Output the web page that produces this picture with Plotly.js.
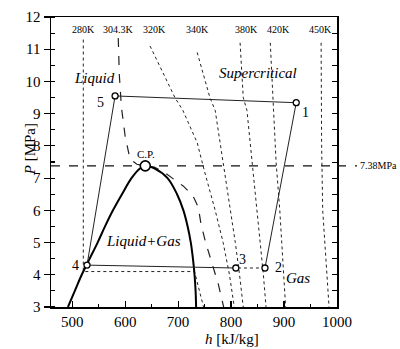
<!DOCTYPE html>
<html><head><meta charset="utf-8">
<script src="https://cdn.plot.ly/plotly-3.0.1.min.js"></script>
<style>html,body{margin:0;padding:0;background:#fff}#c{width:400px;height:349px}</style>
</head><body><div id="c"></div>
<script>
// Saturation dome
const domeLiqH = [492,505,518,533,548,562,577,594,612,628,638];
const domeLiqP = [3.0,3.5,4.0,4.5,5.0,5.5,6.0,6.5,7.0,7.3,7.38];
const domeVapH = [638,655,680,698,710,718,724,728,731,733,734];
const domeVapP = [7.38,7.3,7.0,6.5,6.0,5.5,5.0,4.5,4.0,3.5,3.0];
// Isotherms
const t280H = [521,521,521,731,740,748];
const t280P = [11.3,7.0,4.1,4.1,3.55,3.0];
const t304H = [587,589,593,600,609,622,638,655,672,690,710,728,738,743,752,765,776,786];
const t304P = [11.35,10.2,9.2,8.3,7.6,7.43,7.38,7.34,7.2,7.0,6.75,6.45,6.1,5.6,5.0,4.3,3.7,3.0];
const t320H = [647,670,694,709,726,736,750,770,785,797,806];
const t320P = [11.1,10.3,9.5,9.1,8.5,8.1,7.2,6.0,5.0,4.0,3.0];
const t340H = [736,748,760,770,784,798,808,816,823];
const t340P = [10.9,10.2,9.5,9.1,7.6,6.2,5.0,4.0,3.0];
const t380H = [817,820,823,830,840,849,856,861,866];
const t380P = [11.2,10.3,9.5,9.1,7.5,6.0,5.0,4.0,3.0];
const t420H = [874,877,879,885,892,896,900,903];
const t420P = [11.2,10.2,9.2,7.5,6.0,5.0,4.0,3.0];
const t450H = [970,970,971,973,977,981,985];
const t450P = [11.2,9.5,8.0,6.0,5.0,4.0,3.0];
const isoLabels = ["280K","304.3K","320K","340K","380K","420K","450K"];
const isoLabelH = [521,587,656,737,830,889,968];
// Cycle states 1..5
const stateNames = ["1","2","3","4","5"];
const stateH = [923,864,809,528,581];
const stateP = [9.34,4.21,4.21,4.30,9.55];
// Critical point
const cpH = 638, cpP = 7.38;
// Axis ticks
const xTicks = [500,600,700,800,900,1000];
const yTicks = [3,4,5,6,7,8,9,10,11,12];

const serif = "Liberation Serif";
const iso = (h,p,dash,w)=>({x:h,y:p,mode:'lines',line:{color:'#222',width:w||1,dash:dash||'dot'},hoverinfo:'skip',showlegend:false});
const traces = [
  iso(t280H,t280P), iso(t304H,t304P,'dash',1.2), iso(t320H,t320P), iso(t340H,t340P),
  iso(t380H,t380P), iso(t420H,t420P), iso(t450H,t450P),
  {x:[460,1000],y:[cpP,cpP],mode:'lines',line:{color:'#111',width:1.4,dash:'dash'},hoverinfo:'skip',showlegend:false},
  {x:domeLiqH.concat(domeVapH.slice(1)),y:domeLiqP.concat(domeVapP.slice(1)),mode:'lines',line:{color:'#000',width:2,shape:'spline'},hoverinfo:'skip',showlegend:false},
  // cycle
  {x:[stateH[4],stateH[0],stateH[1]],y:[stateP[4],stateP[0],stateP[1]],mode:'lines',line:{color:'#222',width:1},showlegend:false},
  {x:[stateH[1],stateH[2]],y:[stateP[1],stateP[2]],mode:'lines',line:{color:'#222',width:1,dash:'dot'},showlegend:false},
  {x:[stateH[2],stateH[3],stateH[4]],y:[stateP[2],stateP[3],stateP[4]],mode:'lines',line:{color:'#222',width:1},showlegend:false},
  {x:stateH,y:stateP,mode:'markers',marker:{symbol:'circle',size:6,color:'#fff',line:{width:1.3,color:'#000'}},showlegend:false},
  {x:[cpH],y:[cpP],mode:'markers',marker:{symbol:'circle',size:10,color:'#fff',line:{width:1.6,color:'#000'}},showlegend:false}
];

const ann = [];
isoLabels.forEach((t,i)=>ann.push({x:isoLabelH[i],y:11.62,text:t,showarrow:false,font:{family:serif,size:10,color:'#000'},xanchor:'center',yanchor:'middle'}));
const stateLabelH = [940,889,821,506,553];
const stateLabelP = [9.05,4.24,4.46,4.3,9.34];
stateNames.forEach((t,i)=>ann.push({x:stateLabelH[i],y:stateLabelP[i],text:t,showarrow:false,font:{family:serif,size:14,color:'#000'}}));
ann.push({x:640,y:7.74,text:'C.P.',showarrow:false,font:{family:serif,size:11,color:'#000'}});
ann.push({x:543,y:10.1,text:'<i>Liquid</i>',showarrow:false,font:{family:serif,size:15,color:'#000'}});
ann.push({x:851,y:10.27,text:'<i>Supercritical</i>',showarrow:false,font:{family:serif,size:15,color:'#000'}});
ann.push({x:634,y:5.05,text:'<i>Liquid+Gas</i>',showarrow:false,font:{family:serif,size:15,color:'#000'}});
ann.push({x:927,y:3.9,text:'<i>Gas</i>',showarrow:false,font:{family:serif,size:15,color:'#000'}});
ann.push({xref:'paper',x:1.075,y:cpP,text:'7.38MPa',showarrow:false,xanchor:'left',font:{family:serif,size:10,color:'#000'}});
ann.push({xref:'paper',x:-0.108,y:7.9,text:'<i>P</i> [MPa]',textangle:-90,showarrow:false,font:{family:serif,size:15,color:'#000'}});
ann.push({x:802,yref:'paper',y:-0.077,yanchor:'top',text:'<i>h</i> [kJ/kg]',showarrow:false,font:{family:serif,size:15,color:'#000'}});

const layout = {
  width:400,height:349,margin:{l:51,r:63,t:17,b:42},
  font:{family:serif},
  paper_bgcolor:'#fff',plot_bgcolor:'#fff',showlegend:false,
  xaxis:{range:[460,1000],tickvals:xTicks,ticks:'inside',ticklen:6,tickwidth:1.2,tickcolor:'#000',
    minor:{dtick:50,tick0:0,ticks:'inside',ticklen:3,tickcolor:'#000'},
    showline:true,linecolor:'#000',linewidth:1.5,mirror:true,showgrid:false,zeroline:false,
    tickfont:{family:serif,size:15,color:'#000'}},
  yaxis:{range:[3,12],tickvals:yTicks,ticks:'outside',ticklen:6,tickwidth:1.2,tickcolor:'#000',
    minor:{dtick:0.5,tick0:0,ticks:'inside',ticklen:4,tickcolor:'#000'},
    showline:true,linecolor:'#000',linewidth:1.5,mirror:true,showgrid:false,zeroline:false,
    tickfont:{family:serif,size:15,color:'#000'}},
  yaxis2:{range:[3,12],overlaying:'y',side:'right',dtick:0.5,tick0:0,ticks:'inside',ticklen:5,tickcolor:'#000',
    showticklabels:false,showgrid:false,zeroline:false,showline:false},
  shapes:[{type:'line',xref:'paper',yref:'y',x0:1,x1:1.07,y0:cpP,y1:cpP,line:{color:'#111',width:1.4,dash:'dash'}}],
  annotations:ann
};
traces.push({x:[460],y:[3],yaxis:'y2',mode:'markers',marker:{opacity:0},hoverinfo:'skip',showlegend:false});
Plotly.newPlot('c',traces,layout,{displayModeBar:false,staticPlot:true});
</script></body></html>
